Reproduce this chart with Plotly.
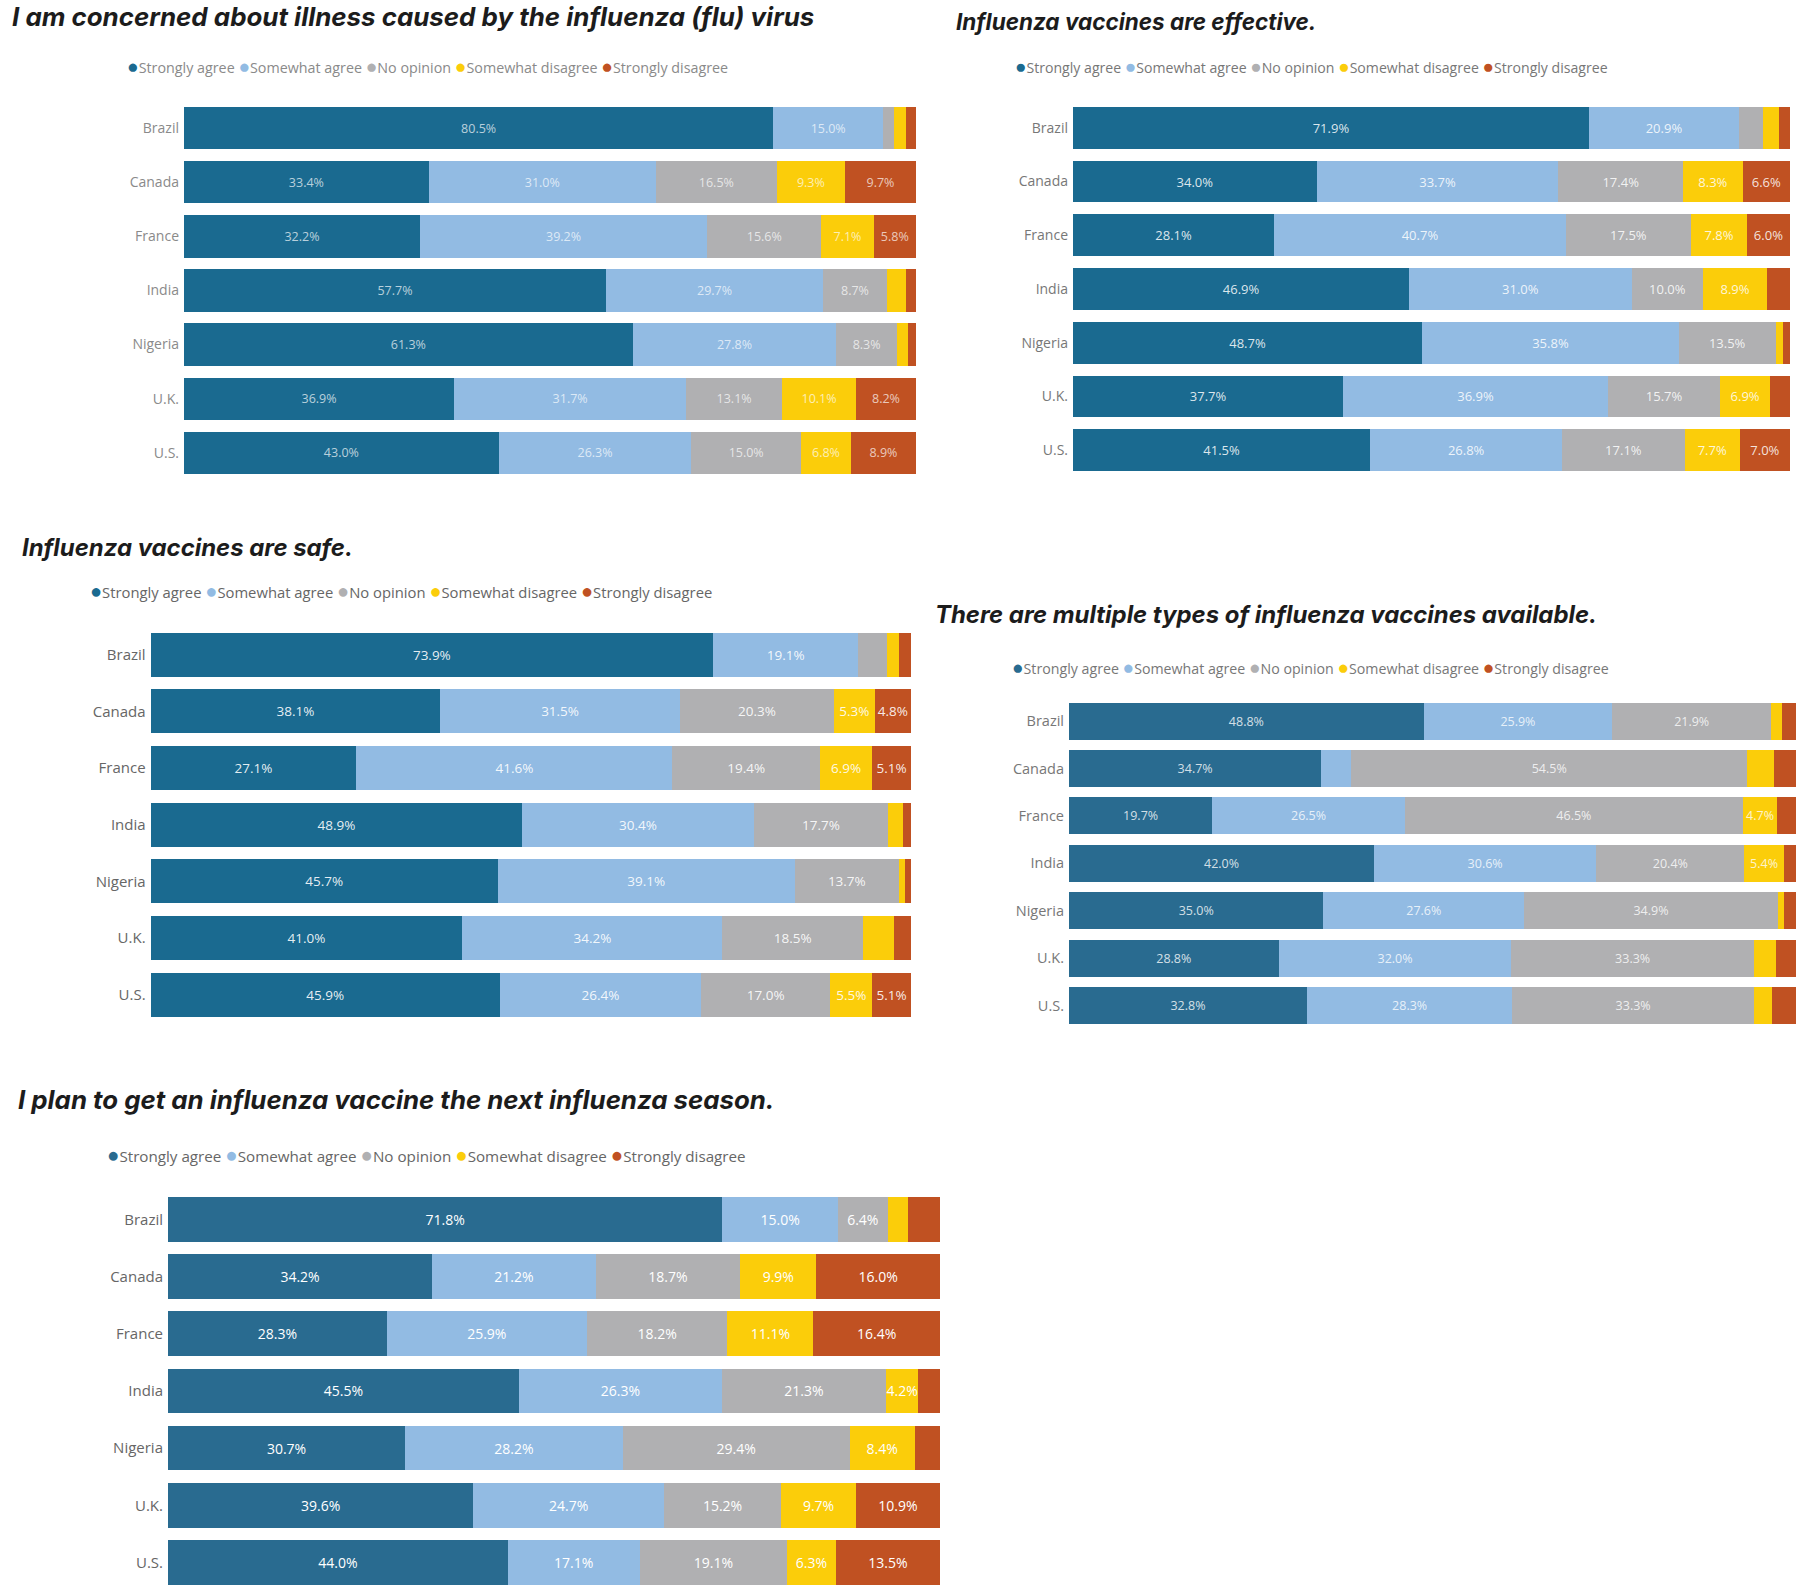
import plotly.graph_objects as go

W = 1797
H = 1586

countries = ['Brazil', 'Canada', 'France', 'India', 'Nigeria', 'U.K.', 'U.S.']
responses = ['Strongly agree', 'Somewhat agree', 'No opinion', 'Somewhat disagree', 'Strongly disagree']

# one row per response, one value per country
concern = [[80.5, 33.4, 32.2, 57.7, 61.3, 36.9, 43.0],
           [15.0, 31.0, 39.2, 29.7, 27.8, 31.7, 26.3],
           [1.5, 16.5, 15.6, 8.7, 8.3, 13.1, 15.0],
           [1.7, 9.3, 7.1, 2.6, 1.5, 10.1, 6.8],
           [1.3, 9.7, 5.8, 1.4, 1.1, 8.2, 8.9]]
effective = [[71.9, 34.0, 28.1, 46.9, 48.7, 37.7, 41.5],
             [20.9, 33.7, 40.7, 31.0, 35.8, 36.9, 26.8],
             [3.3, 17.4, 17.5, 10.0, 13.5, 15.7, 17.1],
             [2.2, 8.3, 7.8, 8.9, 1.0, 6.9, 7.7],
             [1.6, 6.6, 6.0, 3.2, 1.0, 2.8, 7.0]]
safe = [[73.9, 38.1, 27.1, 48.9, 45.7, 41.0, 45.9],
        [19.1, 31.5, 41.6, 30.4, 39.1, 34.2, 26.4],
        [3.7, 20.3, 19.4, 17.7, 13.7, 18.5, 17.0],
        [1.6, 5.3, 6.9, 1.9, 0.8, 4.1, 5.5],
        [1.6, 4.8, 5.1, 1.1, 0.8, 2.2, 5.1]]
types = [[48.8, 34.7, 19.7, 42.0, 35.0, 28.8, 32.8],
         [25.9, 4.1, 26.5, 30.6, 27.6, 32.0, 28.3],
         [21.9, 54.5, 46.5, 20.4, 34.9, 33.3, 33.3],
         [1.5, 3.7, 4.7, 5.4, 0.9, 3.1, 2.5],
         [1.9, 3.0, 2.6, 1.7, 1.6, 2.7, 3.3]]
plan = [[71.8, 34.2, 28.3, 45.5, 30.7, 39.6, 44.0],
        [15.0, 21.2, 25.9, 26.3, 28.2, 24.7, 17.1],
        [6.4, 18.7, 18.2, 21.3, 29.4, 15.2, 19.1],
        [2.7, 9.9, 11.1, 4.2, 8.4, 9.7, 6.3],
        [4.1, 16.0, 16.4, 2.8, 3.3, 10.9, 13.5]]

colors = ['#1a6a90', '#92bbe3', '#b0b0b2', '#fbcd0a', '#c05122']
colors_alt = ['#296b90', '#92bbe3', '#b0b0b2', '#fbcd0a', '#c05122']

# title, values, smallest labelled value, plot box in pixels, title/legend pixel anchors, font sizes
panels = [
    dict(title='I am concerned about illness caused by the influenza (flu) virus', values=concern, min_label=3,
         box=(184, 916, 101.3, 479.7), title_xy=(10, 17), title_size=25.9, legend_xy=(125, 66), legend_size=14.3,
         y_range=[6.5, -0.5], tick_color='#8a8a8a', tick_size=14, text_color='rgba(255,255,255,0.7)', text_size=12.5,
         palette=colors),
    dict(title='Influenza vaccines are effective.', values=effective, min_label=4,
         box=(1073, 1790, 100.9, 477.1), title_xy=(954, 22), title_size=22.5, legend_xy=(1013, 66), legend_size=14.1,
         y_range=[6.5, -0.5], tick_color='#777777', tick_size=14, text_color='rgba(255,255,255,0.85)', text_size=13,
         palette=colors),
    dict(title='Influenza vaccines are safe.', values=safe, min_label=4.5,
         box=(150.6, 911, 626.3, 1023), title_xy=(20, 547), title_size=23.9, legend_xy=(88, 591), legend_size=14.8,
         y_range=[6.5, -0.5], tick_color='#666666', tick_size=15, text_color='rgba(255,255,255,0.9)', text_size=13.5,
         palette=colors),
    dict(title='There are multiple types of influenza vaccines available.', values=types, min_label=4.5,
         box=(1069, 1796, 697.5, 1029.2), title_xy=(933, 614), title_size=23.9, legend_xy=(1010, 666), legend_size=14.2,
         y_range=[6.5, -0.5], tick_color='#777777', tick_size=14.5, text_color='rgba(255,255,255,0.8)', text_size=12.5,
         palette=colors_alt),
    dict(title='I plan to get an influenza vaccine the next influenza season.', values=plan, min_label=4.15,
         box=(168, 940, 1190.7, 1586), title_xy=(16, 1099), title_size=25.8, legend_xy=(105, 1154), legend_size=15.2,
         y_range=[6.41, -0.5], tick_color='#666666', tick_size=15, text_color='#ffffff', text_size=14,
         palette=colors_alt),
]

fig = go.Figure()
layout = {}
notes = []

for n, p in enumerate(panels, start=1):
    left, right, top, bottom = p['box']
    suffix = '' if n == 1 else str(n)
    for name, values, color in zip(responses, p['values'], p['palette']):
        labels = [f'{v:.1f}%' if v >= p['min_label'] else '' for v in values]
        fig.add_trace(go.Bar(x=values, y=countries, name=name, orientation='h', marker_color=color,
                             marker_line_width=0, text=labels, textposition='inside',
                             insidetextanchor='middle', textangle=0, constraintext='none',
                             textfont=dict(color=p['text_color'], size=p['text_size'], family='Open Sans'),
                             xaxis='x' + suffix, yaxis='y' + suffix, showlegend=False))
    layout['xaxis' + suffix] = dict(domain=[left / W, right / W], range=[0, 100], visible=False,
                                    anchor='y' + suffix)
    layout['yaxis' + suffix] = dict(domain=[1 - bottom / H, 1 - top / H], range=p['y_range'], anchor='x' + suffix,
                                    showgrid=False, showline=False, zeroline=False, ticks='', ticklabelstandoff=4,
                                    tickfont=dict(color=p['tick_color'], size=p['tick_size'], family='Open Sans'))
    notes.append(dict(text=f"<b><i>{p['title']}</i></b>", x=p['title_xy'][0] / W, y=1 - p['title_xy'][1] / H,
                      xref='paper', yref='paper', xanchor='left', yanchor='middle', showarrow=False,
                      font=dict(family='Inter', size=p['title_size'], color='#1c1c1c')))
    legend_text = ' '.join(f'<span style="color:{c};font-size:{p["legend_size"] * 1.35:.1f}px">●</span>{r}'
                           for r, c in zip(responses, p['palette']))
    notes.append(dict(text=legend_text, x=p['legend_xy'][0] / W, y=1 - p['legend_xy'][1] / H,
                      xref='paper', yref='paper', xanchor='left', yanchor='middle', showarrow=False,
                      font=dict(family='Open Sans', size=p['legend_size'], color=p['tick_color'])))

fig.update_layout(width=W, height=H, margin=dict(l=0, r=0, t=0, b=0), barmode='stack', barnorm='percent',
                  bargap=0.22, paper_bgcolor='white', plot_bgcolor='white', annotations=notes, **layout)
fig.write_html("out.html", post_script="document.body.style.margin='0';", config=dict(displayModeBar=False))
